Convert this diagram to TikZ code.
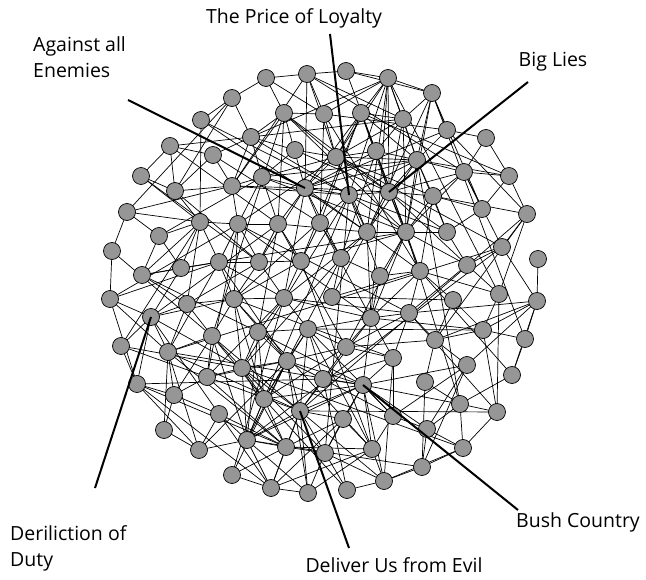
\documentclass[tikz,border=0pt]{standalone}
\usepackage{fontspec}
\setmainfont{Open Sans}
\usetikzlibrary{backgrounds}
\definecolor{vgray}{RGB}{150,150,150}
\begin{document}
\begin{tikzpicture}[x=1pt,y=-1pt,
  vtx/.style={circle,draw=black,fill=vgray,line width=0.7pt,minimum size=17pt,inner sep=0pt},
  edge/.style={line width=0.7pt},
  lbl/.style={line width=2pt},
  txt/.style={font=\fontsize{19.5}{26}\selectfont,inner sep=0pt}]
\useasboundingbox (0,0) rectangle (646,580);
\foreach \x/\y [count=\i] in {
266/78,307/74,346/71,388/78,432/93,232/98,284/113,324/114,361/113,403/119,
447/130,486/138,201/120,251/137,295/150,336/157,376/151,417/160,464/172,509/176,
170/146,213/155,141/176,262/177,305/188,349/195,389/192,433/196,482/209,527/214,
175/191,232/186,127/212,200/222,238/224,278/224,320/223,367/232,406/232,447/232,
502/247,538/259,159/236,112/251,219/262,259/262,301/261,341/258,380/276,420/271,
467/265,181/268,142/275,110/299,234/299,284/298,332/297,187/304,453/300,499/294,
537/301,151/317,212/336,258/332,308/329,371/318,409/313,483/330,525/339,121/346,
168/352,346/347,393/358,435/340,467/365,512/375,137/384,174/395,207/377,242/368,
287/361,323/379,363/385,425/382,219/414,264/399,300/411,343/419,393/416,460/404,
497/412,164/430,199/450,247/440,286/447,325/453,372/449,427/429,463/448,232/475,
271/488,308/493,347/490,384/481,422/467}{
  \node[vtx] (n\i) at (\x,\y) {};
  \expandafter\xdef\csname px\i\endcsname{\x}
  \expandafter\xdef\csname py\i\endcsname{\y}
  \expandafter\xdef\csname hw\i\endcsname{1}
}
\foreach \h in {7,9,16,18,25,26,27,38,39,55,62,66,80,81,83,86,87,94,95}{
  \expandafter\xdef\csname hw\h\endcsname{2.2}
}
\begin{pgfonlayer}{background}
\pgfmathsetseed{11}
\foreach \i in {1,...,104}{
  \pgfmathtruncatemacro\ip{\i+1}
  \foreach \j in {\ip,...,105}{
    \pgfmathsetmacro\dd{veclen(\csname px\i\endcsname-\csname px\j\endcsname,\csname py\i\endcsname-\csname py\j\endcsname)}
    \pgfmathsetmacro\pp{(\dd<45)*0.8+(\dd>=45)*0.3*exp(-(\dd-45)/50)*\csname hw\i\endcsname*\csname hw\j\endcsname}
    \pgfmathparse{rnd<\pp}
    \ifdim\pgfmathresult pt>0.5pt \draw[edge] (n\i.center) -- (n\j.center); \fi
  }
}
\end{pgfonlayer}
% labels
\node[txt] (tpl) at (294,18) {The Price of Loyalty};
\node[txt,align=left,anchor=north west] (tae) at (33,36) {Against all\\Enemies};
\node[txt] (tbl) at (553,62) {Big Lies};
\node[txt,align=left,anchor=north west] (tdd) at (10,525) {Deriliction of\\Duty};
\node[txt] (tbc) at (578,522) {Bush Country};
\node[txt] (tde) at (394,565) {Deliver Us from Evil};
\coordinate (cpl) at (330,34);
\coordinate (cae) at (128,100);
\coordinate (cbl) at (528,82);
\coordinate (cdd) at (95,488);
\coordinate (cbc) at (518,510);
\coordinate (cde) at (349,548);
\draw[lbl] (cpl) -- (n26.center);
\draw[lbl] (cae) -- (n25.center);
\draw[lbl] (cbl) -- (n27.center);
\draw[lbl] (cdd) -- (n62.center);
\draw[lbl] (cbc) -- (n83.center);
\draw[lbl] (cde) -- (n87.center);
\end{tikzpicture}
\end{document}
